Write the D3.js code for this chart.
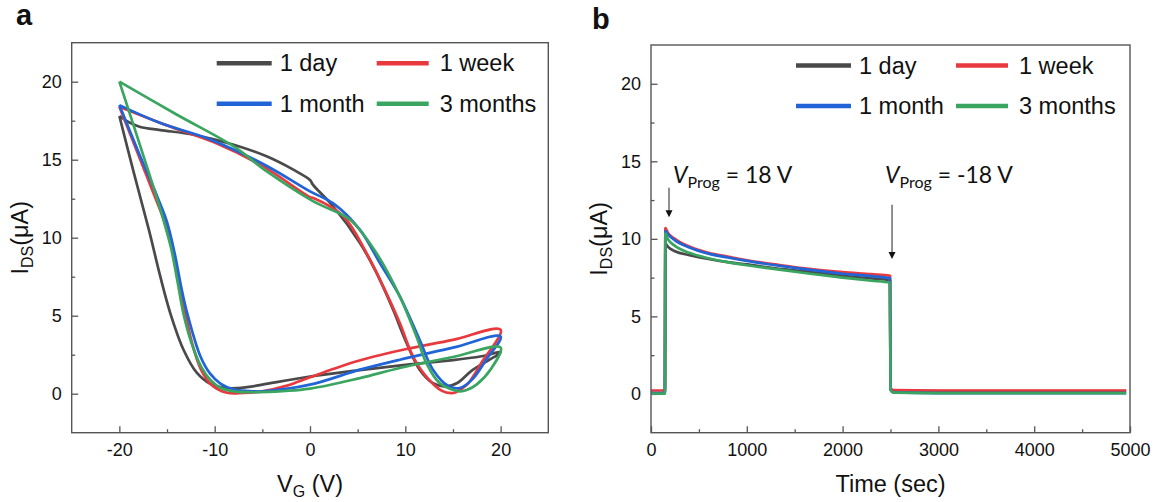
<!DOCTYPE html>
<html>
<head>
<meta charset="utf-8">
<script src="https://cdn.jsdelivr.net/npm/d3@7"></script>
<style>
  body { margin: 0; background: #fff; }
  text { font-family: "Liberation Sans", Arial, sans-serif; fill: #111; }
</style>
</head>
<body>
<script>
// ---- data ----
var seriesNames = ["1 day", "1 week", "1 month", "3 months"];
var seriesColors = ["#4a4a4a", "#e8393e", "#2064d8", "#3aa560"];

// panel a: transfer loops, [VG (V), IDS (uA)] in sweep order
var loopDay = [[-20,17.8],[-18.5,14.2],[-16.9,10.5],[-15.7,7.5],[-14.66,5.17],[-13.27,2.82],[-11.86,1.33],[-10.47,0.64],[-8.72,0.36],[-6.6,0.42],
  [-5,0.58],[0,1.1],[5,1.5],[10,1.85],[15,2.15],[18,2.4],[20,2.65],
  [17,1.5],[15.5,0.7],[14.3,0.47],[12.9,0.68],[11.5,1.54],[10.13,3.25],[8.72,5.38],[6.98,7.74],[5.24,9.66],[2.44,12.0],[0.3,13.4],[0,13.7],
  [-1.75,14.36],[-4.5,15.2],[-8,15.96],[-12.2,16.6],[-15.7,16.9],[-17.8,17.1],[-19,17.4],[-20,17.8]];
var loopWeek = [[-20,18.4],[-18,15.3],[-16,12.2],[-15,10.6],[-14.1,8.4],[-13.3,5.9],[-12.4,3.3],[-11.4,1.5],[-10.2,0.5],[-8.7,0.06],[-7,0.05],
  [-5,0.15],[-2.5,0.5],[0,1.05],[2.5,1.6],[5,2.1],[7.5,2.5],[10,2.85],[15,3.45],[20,4.1],
  [18,2.0],[16.5,0.6],[15.3,0.1],[14.8,0.04],[13.8,0.2],[12.2,1.1],[10.8,2.4],[9.42,4.53],[7.68,6.88],[5.94,9.0],[3.5,11.37],[0.35,12.54],[0,12.6],
  [-5,14.6],[-10,16.1],[-15,17.2],[-20,18.4]];
var loopMonth = [[-20,18.5],[-18,15.5],[-16,12.6],[-15,11.0],[-14.2,9.0],[-13.5,6.8],[-12.9,5.2],[-11.5,2.4],[-10.5,1.3],[-9.4,0.65],[-8.0,0.28],[-6.5,0.17],
  [-5,0.15],[0,0.58],[5.24,1.54],[9.42,2.18],[15,2.95],[20,3.67],
  [18.5,2.2],[17,0.9],[15.7,0.36],[14.5,0.5],[12.9,1.54],[11.5,3.46],[9.42,6.24],[7.33,8.38],[5.24,10.5],[2.44,12.2],[0,12.97],
  [-4.53,14.6],[-10.47,16.3],[-15.7,17.35],[-20,18.5]];
var loop3Months = [[-20,20],[-17.45,15.2],[-15.6,11.6],[-14.6,9.4],[-13.9,7.2],[-13.3,5.2],[-12.4,3.2],[-11.4,1.7],[-10.4,0.85],[-9.3,0.35],[-8.0,0.15],[-6.5,0.1],
  [-5.24,0.1],[0,0.33],[5.24,1.0],[9.42,1.65],[15,2.35],[20,2.96],
  [19,1.6],[17.5,0.6],[16.5,0.25],[15.7,0.15],[13.6,0.68],[12.2,1.97],[11.17,3.67],[9.42,6.24],[6.98,9.0],[4.2,11.15],[0.35,12.33],
  [-4.53,14.25],[-8,15.85],[-14,17.9],[-20,20]];

// panel b: retention, shared time axis (sec) + IDS (uA) per series
var timeSec = [0, 145, 150, 175, 250, 400, 600, 800, 1000, 1300, 1600, 2000, 2300, 2495, 2500, 2530, 3000, 4000, 4960];
var idsDay    = [0.05,0.05,9.7,9.5,9.2,8.95,8.7,8.5,8.35,8.1,7.9,7.62,7.45,7.33,0.3,0.2,0.18,0.18,0.18];
var idsWeek   = [0.22,0.22,10.7,10.4,10.0,9.5,9.1,8.85,8.62,8.35,8.1,7.85,7.72,7.62,0.35,0.25,0.22,0.22,0.22];
var idsMonth  = [0.05,0.05,10.5,10.3,9.9,9.45,9.05,8.8,8.58,8.3,8.05,7.75,7.6,7.45,0.3,0.1,0.05,0.05,0.05];
var ids3Month = [0.02,0.02,10.35,10.0,9.55,9.1,8.75,8.5,8.3,8.05,7.8,7.5,7.3,7.17,0.25,0.08,0.05,0.05,0.05];

var yTicks = [0, 5, 10, 15, 20];
var yMinor = [2.5, 7.5, 12.5, 17.5];
var vgTicks = [-20, -10, 0, 10, 20];
var vgMinor = [-15, -5, 5, 15];
var timeTicks = [0, 1000, 2000, 3000, 4000, 5000];
var timeMinor = [500, 1500, 2500, 3500, 4500];

// ---- drawing ----
var svg = d3.select("body").append("svg")
  .attr("width", 1156)
  .attr("height", 502);

var plain = function (d) { return String(d); }; // keep "-20" and "1000" as in the figure

function drawPanel(p) {
  var x = d3.scaleLinear().domain(p.xDomain).range([p.left, p.right]);
  var y = d3.scaleLinear().domain([-2.5, 22.5]).range([432.7, p.top]);
  var g = svg.append("g");

  // ticks pointing inward
  g.append("g")
    .attr("transform", "translate(0,432.7)")
    .call(d3.axisBottom(x).tickValues(p.xTicks).tickFormat(plain).tickSizeInner(-6.5).tickSizeOuter(0).tickPadding(10.5))
    .call(function (a) { a.select(".domain").remove(); });
  g.append("g")
    .attr("transform", "translate(0,432.7)")
    .call(d3.axisBottom(x).tickValues(p.xMinor).tickSizeInner(-3.5).tickSizeOuter(0).tickFormat(""))
    .call(function (a) { a.select(".domain").remove(); });
  g.append("g")
    .attr("transform", "translate(" + p.left + ",0)")
    .call(d3.axisLeft(y).tickValues(yTicks).tickFormat(plain).tickSizeInner(-6.5).tickSizeOuter(0).tickPadding(10))
    .call(function (a) { a.select(".domain").remove(); });
  g.append("g")
    .attr("transform", "translate(" + p.left + ",0)")
    .call(d3.axisLeft(y).tickValues(yMinor).tickSizeInner(-3.5).tickSizeOuter(0).tickFormat(""))
    .call(function (a) { a.select(".domain").remove(); });
  g.selectAll(".tick line").attr("stroke", "#555").attr("stroke-width", 1.3);
  g.selectAll(".tick text")
    .style("font-size", "18px")
    .style("font-family", "'Liberation Sans', Arial, sans-serif")
    .attr("fill", "#111");

  // data lines
  var line = d3.line()
    .x(function (d) { return x(d[0]); })
    .y(function (d) { return y(d[1]); })
    .curve(p.curve);
  g.selectAll("path.series").data(p.series).enter().append("path")
    .attr("class", "series")
    .attr("d", line)
    .attr("fill", "none")
    .attr("stroke", function (d, i) { return seriesColors[i]; })
    .attr("stroke-width", 2.7)
    .attr("stroke-linejoin", "round");

  // frame
  g.append("rect")
    .attr("x", p.left).attr("y", p.top)
    .attr("width", p.right - p.left).attr("height", 432.7 - p.top)
    .attr("fill", "none").attr("stroke", "#555").attr("stroke-width", 1.4);

  // legend
  var leg = g.selectAll("g.leg").data(seriesNames).enter().append("g")
    .attr("class", "leg")
    .attr("transform", function (d, i) {
      return "translate(" + (p.left + (i % 2 ? 305 : 145)) + "," + (p.top + (i < 2 ? 20.6 : 61)) + ")";
    });
  leg.append("line")
    .attr("x1", 0).attr("x2", function (d, i) { return i % 2 ? 52 : 55; })
    .attr("stroke", function (d, i) { return seriesColors[i]; })
    .attr("stroke-width", 4.5);
  leg.append("text")
    .attr("x", 63).attr("y", 8)
    .style("font-size", "23.5px")
    .text(function (d) { return d; });

  // axis titles
  var xt = g.append("text")
    .attr("x", (p.left + p.right) / 2).attr("y", 492)
    .attr("text-anchor", "middle")
    .style("font-size", "23.5px");
  p.xTitle(xt);

  var yt = g.append("text")
    .attr("transform", "translate(" + (p.left - 44) + "," + ((p.top + 432.7) / 2) + ") rotate(-90)")
    .attr("text-anchor", "middle")
    .style("font-size", "23.5px");
  yt.append("tspan").text("I");
  yt.append("tspan").text("DS").attr("dy", 5).style("font-size", "16px");
  yt.append("tspan").text("(μA)").attr("dy", -5);

  // panel letter
  g.append("text")
    .attr("x", p.letterX).attr("y", p.letterY)
    .style("font-size", "29px").style("font-weight", "bold")
    .text(p.letter);

  return { x: x, y: y, g: g };
}

var pa = drawPanel({
  left: 71.7, right: 548.3, top: 42.7,
  xDomain: [-25, 25], xTicks: vgTicks, xMinor: vgMinor,
  series: [loopDay, loopWeek, loopMonth, loop3Months],
  curve: d3.curveCatmullRom.alpha(0.5),
  letter: "a", letterX: 16, letterY: 25,
  xTitle: function (t) {
    t.append("tspan").text("V");
    t.append("tspan").text("G").attr("dy", 5).style("font-size", "16px");
    t.append("tspan").text(" (V)").attr("dy", -5);
  }
});

var retention = [idsDay, idsWeek, idsMonth, ids3Month].map(function (vals) {
  return timeSec.map(function (t, i) { return [t, vals[i]]; });
});

var pb = drawPanel({
  left: 651, right: 1130, top: 45,
  xDomain: [0, 5000], xTicks: timeTicks, xMinor: timeMinor,
  series: retention,
  curve: d3.curveMonotoneX,
  letter: "b", letterX: 592, letterY: 29,
  xTitle: function (t) { t.text("Time (sec)"); }
});

// programming pulse annotations in panel b
var notes = [
  { label: "18 V", t: 230, i: 13.6, arrowT: 188, from: 13.3, to: 11.4 },
  { label: "-18 V", t: 2443, i: 13.6, arrowT: 2516, from: 12.2, to: 8.7 }
];
notes.forEach(function (n) {
  var tx = pb.g.append("text")
    .attr("x", pb.x(n.t)).attr("y", pb.y(n.i))
    .style("font-family", "Lato, 'Open Sans', sans-serif")
    .style("font-size", "23px");
  tx.append("tspan").text("V").style("font-style", "italic");
  tx.append("tspan").text("Prog").attr("dy", 5).style("font-size", "16px");
  tx.append("tspan").text(" = " + n.label).attr("dy", -5);

  var ax = pb.x(n.arrowT), y0 = pb.y(n.from), y1 = pb.y(n.to);
  pb.g.append("line")
    .attr("x1", ax).attr("x2", ax).attr("y1", y0).attr("y2", y1 - 6)
    .attr("stroke", "#222").attr("stroke-width", 1);
  pb.g.append("path")
    .attr("d", "M" + (ax - 3.5) + "," + (y1 - 7) + "L" + (ax + 3.5) + "," + (y1 - 7) + "L" + ax + "," + y1 + "Z")
    .attr("fill", "#111");
});
</script>
</body>
</html>
